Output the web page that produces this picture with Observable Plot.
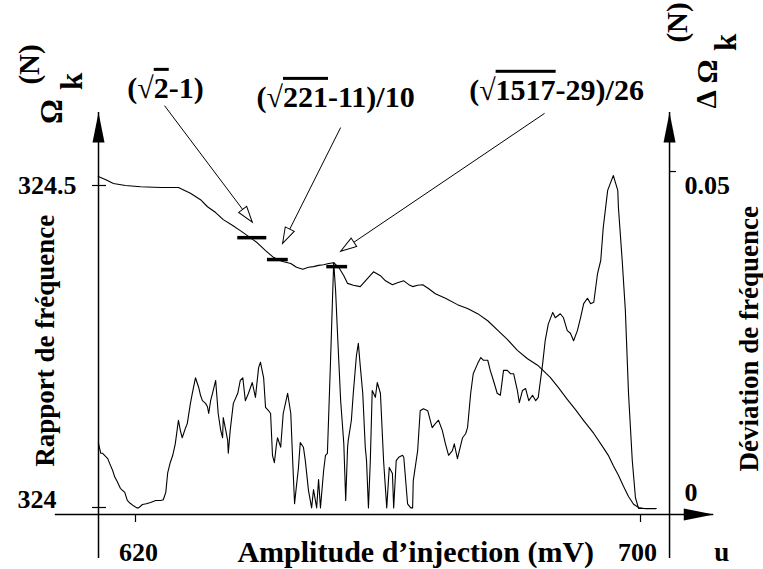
<!DOCTYPE html>
<html><head><meta charset="utf-8">
<script src="https://cdn.jsdelivr.net/npm/d3@7"></script>
<script src="https://cdn.jsdelivr.net/npm/@observablehq/plot@0.6"></script>
<style>html,body{margin:0;padding:0;background:#fff;}</style>
</head><body><div id="chart"></div>
<script>
// ---- data ----
// frequency ratio Ω_k^(N) vs injection amplitude (mV)
const ratioCurve = [
[614.1,324.514],[615.3,324.509],[616.5,324.503],[618.4,324.500],[620.8,324.498],[624.0,324.497],[626.8,324.497],
[628.7,324.488],[630.3,324.478],[631.4,324.467],[632.7,324.458],[633.9,324.447],[635.4,324.438],[636.6,324.430],
[637.9,324.421],[639.3,324.411],[640.6,324.399],[641.9,324.388],[643.3,324.382],[644.6,324.379],[645.5,324.373],
[646.5,324.370],[647.4,324.373],[648.2,324.374],[649.0,324.376],[649.8,324.377],[650.6,324.379],[651.4,324.380],
[652.2,324.373],[653.0,324.360],[653.6,324.348],[654.5,324.345],[655.6,324.343],[656.6,324.354],[657.7,324.366],
[658.8,324.360],[659.6,324.352],[660.7,324.346],[661.5,324.349],[662.5,324.352],[663.3,324.346],[663.9,324.343],
[664.7,324.345],[665.5,324.346],[666.4,324.340],[667.5,324.332],[669.1,324.325],[671.0,324.315],[672.6,324.309],
[674.2,324.301],[675.8,324.290],[677.4,324.275],[678.9,324.261],[680.5,324.244],[682.1,324.231],[683.7,324.221],
[685.7,324.202],[687.0,324.186],[688.4,324.168],[689.7,324.152],[691.0,324.135],[692.6,324.115],[694.1,324.093],
[694.9,324.081],[695.7,324.065],[696.5,324.050],[697.3,324.033],[698.1,324.017],[698.9,324.005],[699.7,324.000],
[700.8,323.998],[702.4,323.998]
];
// frequency deviation ΔΩ_k^(N) vs injection amplitude (mV)
const deviationCurve = [
[614.1,.0098],[614.5,.0082],[614.8,.0082],[615.1,.0079],[615.6,.0074],[615.9,.0067],[616.4,.0056],[616.7,.0047],
[617.1,.0040],[617.6,.0030],[618.3,.0024],[618.7,.0012],[619.0,.0009],[619.7,.0004],[620.2,.0001],[620.5,.0001],
[621.1,.0006],[621.7,.0007],[622.4,.0009],[623.2,.0012],[624.0,.0012],[624.4,.0013],[624.8,.0024],[625.1,.0053],
[625.5,.0068],[625.9,.0079],[626.3,.0096],[626.8,.0131],[627.1,.0116],[627.4,.0105],[627.9,.0119],[628.2,.0126],
[628.7,.0156],[629.0,.0171],[629.5,.0194],[630.0,.0180],[630.3,.0168],[630.6,.0160],[631.1,.0156],[631.4,.0151],
[631.6,.0141],[631.9,.0160],[632.2,.0171],[632.7,.0190],[633.1,.0141],[633.5,.0116],[633.8,.0105],[633.9,.0135],
[634.3,.0116],[634.6,.0101],[634.7,.0082],[635.0,.0116],[635.5,.0156],[636.2,.0171],[636.6,.0190],[637.0,.0194],
[637.4,.0160],[637.9,.0171],[638.5,.0187],[639.0,.0165],[639.5,.0209],[639.8,.0217],[640.3,.0194],[640.6,.0150],
[641.1,.0145],[641.4,.0141],[641.7,.0079],[642.0,.0068],[642.3,.0093],[642.5,.0105],[643.0,.0091],[643.4,.0141],
[644.1,.0171],[644.6,.0141],[644.9,.0071],[645.2,.0007],[645.5,.0034],[645.8,.0059],[646.1,.0098],[646.6,.0091],
[646.9,.0071],[647.4,.0027],[647.9,.0001],[648.2,.0028],[648.7,.0001],[649.0,.0043],[649.3,.0001],[649.8,.0056],
[650.1,.0079],[650.4,.0082],[650.9,.0220],[651.2,.0309],[651.4,.0365],[651.7,.0323],[652.0,.0260],[652.2,.0220],
[652.5,.0160],[653.0,.0096],[653.3,.0012],[653.6,.0091],[653.7,.0101],[654.2,.0131],[654.5,.0171],[655.0,.0227],
[655.3,.0245],[655.6,.0212],[656.0,.0171],[656.4,.0091],[656.6,.0071],[656.9,.0001],[657.2,.0071],[657.5,.0175],
[658.0,.0165],[658.3,.0187],[658.8,.0171],[659.3,.0071],[659.8,.0001],[660.2,.0061],[660.7,.0052],[660.9,.0001],
[661.3,.0071],[661.7,.0076],[662.3,.0079],[662.5,.0076],[663.1,.0007],[663.6,.0001],[663.9,.0001],[664.0,.0041],
[664.7,.0086],[665.1,.0145],[665.6,.0148],[666.3,.0145],[667.0,.0120],[667.5,.0126],[668.0,.0131],[668.6,.0116],
[669.1,.0096],[669.6,.0079],[670.2,.0086],[670.5,.0096],[671.0,.0074],[671.8,.0105],[672.3,.0111],[672.6,.0120],
[673.1,.0171],[673.5,.0200],[674.2,.0215],[674.7,.0224],[675.1,.0220],[675.8,.0220],[676.2,.0205],[676.7,.0190],
[677.3,.0171],[677.8,.0168],[678.3,.0205],[678.9,.0205],[679.4,.0200],[679.9,.0200],[680.5,.0175],[680.8,.0157],
[681.3,.0175],[681.8,.0178],[682.3,.0160],[682.9,.0168],[683.4,.0160],[683.8,.0165],[684.5,.0215],[684.9,.0249],
[685.4,.0274],[686.1,.0291],[686.5,.0283],[687.3,.0289],[687.8,.0283],[688.4,.0264],[688.9,.0260],[689.4,.0249],
[690.0,.0264],[690.5,.0283],[691.0,.0304],[691.6,.0312],[692.1,.0304],[692.6,.0306],[693.2,.0349],[693.7,.0368],
[694.1,.0417],[694.8,.0472],[695.2,.0482],[695.7,.0494],[696.4,.0472],[696.5,.0447],[697.1,.0368],[697.6,.0294],
[698.1,.0171],[698.7,.0071],[699.2,.0016],[699.7,.0000],[701.1,.0000],[702.5,.0000]
];
// rational approximations (levels on the ratio axis) and the mV span of their plateau marks
const fractionLabels = ["(√2-1)", "(√221-11)/10", "(√1517-29)/26"];
const fractionLevels = [324.419, 324.385, 324.374];
const fractionFromMv = [636.2, 640.9, 650.3];
const fractionToMv = [640.8, 644.2, 653.6];
// annotation arrows (label anchor, arrow start, arrow tip) in data units
const labelMv = [624.75, 651.7, 686.7];
const labelOmega = [324.651, 324.637, 324.648];
const arrowFromMv = [624.6, 652.5, 684.8];
const arrowFromOmega = [324.624, 324.590, 324.612];
const arrowToMv = [638.5, 643.3, 652.5];
const arrowToOmega = [324.443, 324.410, 324.398];
// axes
const xTickValues = [620, 700];
const xTickLabels = ["620", "700"];
const leftTickValues = [324.5, 324];
const leftTickLabels = ["324.5", "324"];
const rightTickValues = [0.05, 0];
const rightTickLabels = ["0.05", "0"];

// ---- scales / layout ----
const W = 763, H = 569;
const X_DOMAIN = [620, 700], X_RANGE = [135, 640];
const Y_DOMAIN = [324, 324.5], Y_RANGE = [507, 185];
// right axis (deviation) expressed on the left (ratio) scale
const DEV0_OMEGA = 323.9984, DEV005_OMEGA = 324.5217;
const devToOmega = d => DEV0_OMEGA + d / 0.05 * (DEV005_OMEGA - DEV0_OMEGA);

const LEFT_AXIS_MV = 614.14, RIGHT_AXIS_MV = 704.6;
const AXIS_TOP = 324.6134, AXIS_BOTTOM = 323.921;
const XAXIS_OMEGA = 323.989, XAXIS_FROM = 607.3, XAXIS_TO = 711.6;

const xs = d3.scaleLinear(X_DOMAIN, X_RANGE), ys = d3.scaleLinear(Y_DOMAIN, Y_RANGE);

function headSymbol(len, half) {
  return {draw(ctx) { ctx.moveTo(0, 0); ctx.lineTo(-half, len); ctx.lineTo(half, len); ctx.closePath(); }};
}
const solidHead = headSymbol(30, 6);
const openHead = headSymbol(16, 5);

const FONT = "'Liberation Serif', 'Times New Roman', Times, serif";
const txt = (s, o) => Plot.text([s], {fontWeight: "bold", fill: "black", fontFamily: FONT, ...o});

const marks = [];
// axes lines
marks.push(Plot.ruleX([LEFT_AXIS_MV, RIGHT_AXIS_MV], {y1: AXIS_BOTTOM, y2: AXIS_TOP, stroke: "black", strokeWidth: 1.5}));
marks.push(Plot.ruleY([XAXIS_OMEGA], {x1: XAXIS_FROM, x2: XAXIS_TO, stroke: "black", strokeWidth: 1.5}));
// axis arrowheads
marks.push(Plot.dot([0], {x: LEFT_AXIS_MV, y: AXIS_TOP, symbol: solidHead, fill: "black", stroke: "none"}));
marks.push(Plot.dot([0], {x: RIGHT_AXIS_MV, y: AXIS_TOP, symbol: solidHead, fill: "black", stroke: "none"}));
marks.push(Plot.dot([0], {x: XAXIS_TO, y: XAXIS_OMEGA, symbol: solidHead, fill: "black", stroke: "none", rotate: 90}));
// ticks
marks.push(Plot.ruleY(leftTickValues, {x1: 613.19, x2: 615.41, stroke: "black", strokeWidth: 1.2}));
marks.push(Plot.ruleY([devToOmega(rightTickValues[0])], {x1: RIGHT_AXIS_MV, x2: 705.71, stroke: "black", strokeWidth: 1.2}));
marks.push(Plot.ruleX(xTickValues, {y1: XAXIS_OMEGA, y2: 323.9767, stroke: "black", strokeWidth: 1.2}));
// curves
marks.push(Plot.line(ratioCurve, {x: d => d[0], y: d => d[1], stroke: "black", strokeWidth: 1.1}));
marks.push(Plot.line(deviationCurve, {x: d => d[0], y: d => devToOmega(d[1]), stroke: "black", strokeWidth: 1.1}));
// plateau bars
marks.push(Plot.ruleY(fractionLevels, {x1: (d, i) => fractionFromMv[i], x2: (d, i) => fractionToMv[i], stroke: "black", strokeWidth: 3.5}));
// annotation arrows
marks.push(Plot.link(fractionLabels, {x1: (d, i) => arrowFromMv[i], y1: (d, i) => arrowFromOmega[i],
  x2: (d, i) => arrowToMv[i], y2: (d, i) => arrowToOmega[i], stroke: "black", strokeWidth: 1}));
fractionLabels.forEach((s, i) => {
  const dx = xs(arrowToMv[i]) - xs(arrowFromMv[i]), dy = ys(arrowToOmega[i]) - ys(arrowFromOmega[i]);
  const ang = Math.atan2(dx, -dy) * 180 / Math.PI;
  marks.push(Plot.dot([0], {x: arrowToMv[i], y: arrowToOmega[i], symbol: openHead, fill: "white", stroke: "black", strokeWidth: 1, rotate: ang}));
  marks.push(txt(s, {x: labelMv[i], y: labelOmega[i], fontSize: 30}));
});
// tick labels
marks.push(txt(leftTickLabels[0], {x: LEFT_AXIS_MV, y: leftTickValues[0], dx: -22, textAnchor: "end", fontSize: 26}));
marks.push(txt(leftTickLabels[1], {x: LEFT_AXIS_MV, y: leftTickValues[1], dx: -42, dy: -8, textAnchor: "end", fontSize: 26}));
marks.push(txt(rightTickLabels[0], {x: RIGHT_AXIS_MV, y: devToOmega(rightTickValues[0]), dx: 15, dy: 14, textAnchor: "start", fontSize: 26}));
marks.push(txt(rightTickLabels[1], {x: RIGHT_AXIS_MV, y: devToOmega(rightTickValues[1]), dx: 15, dy: -16, textAnchor: "start", fontSize: 26}));
marks.push(txt(xTickLabels[0], {x: xTickValues[0], y: XAXIS_OMEGA, dx: 3, dy: 38, fontSize: 26}));
marks.push(txt(xTickLabels[1], {x: xTickValues[1], y: XAXIS_OMEGA, dx: -3, dy: 38, fontSize: 26}));
// axis titles
marks.push(txt("Amplitude d’injection (mV)", {x: 664.4, y: XAXIS_OMEGA, dy: 38, fontSize: 30}));
marks.push(txt("u", {x: XAXIS_TO, y: XAXIS_OMEGA, dx: 8, dy: 38, fontSize: 27}));
marks.push(txt("Rapport de fréquence", {x: LEFT_AXIS_MV, y: 324.259, dx: -53, rotate: -90, fontSize: 27}));
marks.push(txt("Déviation de fréquence", {x: RIGHT_AXIS_MV, y: 324.262, dx: 80, rotate: -90, fontSize: 27}));
// Ω_k^(N) (left) and ΔΩ_k^(N) (right), rotated
marks.push(txt("Ω", {x: LEFT_AXIS_MV, y: AXIS_TOP, dx: -46, dy: -1, rotate: -90, fontSize: 31}));
marks.push(txt("k", {x: LEFT_AXIS_MV, y: AXIS_TOP, dx: -26, dy: -31, rotate: -90, fontSize: 31}));
marks.push(txt("(N)", {x: LEFT_AXIS_MV, y: AXIS_TOP, dx: -69, dy: -48, rotate: -90, fontSize: 29}));
marks.push(txt("Δ", {x: RIGHT_AXIS_MV, y: AXIS_TOP, dx: 37, dy: -13, rotate: -90, fontSize: 29}));
marks.push(txt("Ω", {x: RIGHT_AXIS_MV, y: AXIS_TOP, dx: 38, dy: -41, rotate: -90, fontSize: 30}));
marks.push(txt("k", {x: RIGHT_AXIS_MV, y: AXIS_TOP, dx: 57, dy: -70, rotate: -90, fontSize: 31}));
marks.push(txt("(N)", {x: RIGHT_AXIS_MV, y: AXIS_TOP, dx: 8, dy: -90, rotate: -90, fontSize: 29}));

const chart = Plot.plot({
  width: W, height: H,
  margin: 0,
  x: {domain: X_DOMAIN, range: X_RANGE, axis: null},
  y: {domain: Y_DOMAIN, range: Y_RANGE, axis: null},
  style: {background: "white", fontFamily: FONT, overflow: "visible"},
  marks
});
// overline on the radicands
d3.select(chart).selectAll("text").each(function () {
  const t = this.textContent;
  const m = t.match(/^(.*√)(\d+)(.*)$/);
  if (!m) return;
  const sel = d3.select(this);
  sel.text(null);
  sel.append("tspan").text(m[1]);
  sel.append("tspan").style("text-decoration", "overline").text(m[2]);
  sel.append("tspan").text(m[3]);
});
document.getElementById("chart").appendChild(chart);
</script>
</body></html>
